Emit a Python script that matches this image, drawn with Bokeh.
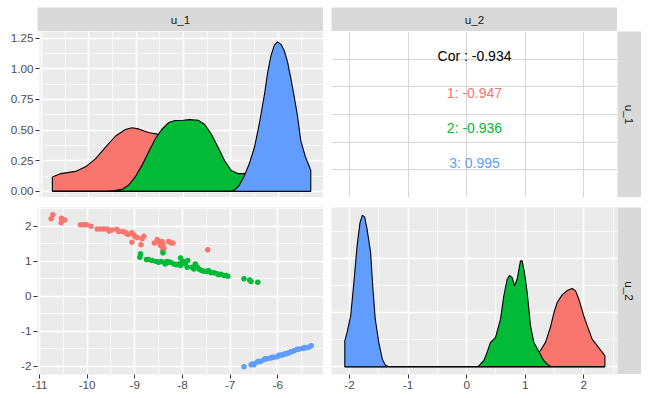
import math
from bokeh.plotting import figure
from bokeh.layouts import row, column
from bokeh.models import FixedTicker, Range1d, Spacer
from bokeh.embed import file_html
from bokeh.resources import INLINE
from bokeh.core.properties import value

# ---------------- data ----------------
groups = ["1", "2", "3"]
group_colors = ["#F8766D", "#00BA38", "#619CFF"]
var_names = ["u_1", "u_2"]

cor_all = -0.934
cor_groups = [-0.947, -0.936, 0.995]

# scatter u_1 (x) vs u_2 (y)
red_u1 = [-10.755, -10.72, -10.54, -10.545, -10.47, -10.14, -10.07, -10.01, -9.92, -9.79,
          -9.72, -9.65, -9.58, -9.54, -9.48, -9.38, -9.34, -9.26, -9.20, -9.16,
          -9.13, -9.06, -9.02, -8.99, -8.95, -9.06, -8.87, -8.85, -8.81, -8.59,
          -8.53, -8.48, -8.43, -8.41, -8.46, -8.41, -8.39, -8.41, -8.29, -8.24,
          -8.20, -7.47]
red_u2 = [2.21, 2.325, 2.23, 2.096, 2.18, 2.04, 2.04, 2.04, 2.00, 1.92,
          1.92, 1.92, 1.92, 1.86, 1.89, 1.91, 1.85, 1.85, 1.83, 1.78,
          1.77, 1.81, 1.75, 1.70, 1.68, 1.54, 1.47, 1.64, 1.71, 1.52,
          1.62, 1.54, 1.56, 1.50, 1.45, 1.40, 1.37, 1.31, 1.56, 1.52,
          1.52, 1.33]
green_u1 = [-8.895, -8.88, -8.755, -8.71, -8.64, -8.55, -8.50, -8.45, -8.39, -8.36,
            -8.32, -8.29, -8.25, -8.18, -8.13, -8.08, -8.04, -8.01, -8.04, -7.99,
            -7.94, -7.90, -7.89, -7.80, -7.76, -7.73, -7.69, -7.64, -7.59, -7.54,
            -7.48, -7.45, -7.40, -7.34, -7.27, -7.24, -7.19, -7.13, -7.08, -7.05,
            -6.71, -6.59, -6.56, -6.42, -8.41]
green_u2 = [1.115, 1.21, 1.05, 1.05, 1.02, 0.99, 0.97, 0.99, 0.97, 0.92,
            0.99, 0.97, 0.97, 0.92, 0.90, 0.92, 0.88, 0.95, 1.09, 0.99,
            0.92, 0.83, 1.02, 0.83, 0.78, 0.92, 0.83, 0.76, 0.73, 0.71,
            0.71, 0.73, 0.67, 0.67, 0.64, 0.61, 0.63, 0.59, 0.59, 0.57,
            0.50, 0.46, 0.42, 0.40, 1.24]
blue_u1 = [-6.71, -6.56, -6.52, -6.43, -6.36, -6.29, -6.22, -6.15, -6.08, -6.01,
           -5.94, -5.87, -5.80, -5.73, -5.66, -5.56, -5.49, -5.42, -5.35, -5.30,
           -6.50, -6.40, -6.26, -6.12, -5.98, -5.91, -5.84, -5.77, -5.70, -5.59,
           -5.44]
blue_u2 = [-2.02, -1.96, -1.93, -1.88, -1.87, -1.81, -1.79, -1.77, -1.75, -1.73,
           -1.69, -1.66, -1.64, -1.60, -1.56, -1.52, -1.50, -1.48, -1.46, -1.42,
           -1.96, -1.86, -1.79, -1.75, -1.69, -1.68, -1.65, -1.62, -1.58, -1.52,
           -1.47]

# density of u_1 per group (x, density)
red_u1_x = [-10.77, -10.59, -10.28, -10.07, -9.86, -9.65, -9.44, -9.23, -9.09, -8.95,
            -8.74, -8.53, -8.3, -8.0, -7.7, -7.4, -7.0, -6.6, -5.31]
red_u1_d = [0.118, 0.145, 0.163, 0.20, 0.265, 0.36, 0.45, 0.505, 0.52, 0.51,
            0.48, 0.465, 0.42, 0.30, 0.14, 0.06, 0.02, 0.0, 0.0]
green_u1_x = [-10.77, -9.6, -9.48, -9.30, -9.16, -9.02, -8.88, -8.74, -8.60, -8.46,
              -8.32, -8.18, -8.01, -7.87, -7.69, -7.55, -7.41, -7.27, -7.13, -6.99,
              -6.85, -6.71, -6.5, -6.3, -6.1, -5.8, -5.31]
green_u1_d = [0.0, 0.0, 0.005, 0.016, 0.05, 0.118, 0.21, 0.32, 0.425, 0.505,
              0.56, 0.578, 0.58, 0.586, 0.58, 0.546, 0.466, 0.36, 0.25, 0.17,
              0.145, 0.145, 0.11, 0.06, 0.02, 0.0, 0.0]
blue_u1_x = [-10.77, -7.1, -6.99, -6.92, -6.82, -6.71, -6.61, -6.50, -6.40, -6.29,
             -6.22, -6.15, -6.08, -6.01, -5.94, -5.87, -5.80, -5.73, -5.66, -5.59,
             -5.52, -5.42, -5.35, -5.31]
blue_u1_d = [0.0, 0.0, 0.003, 0.01, 0.05, 0.13, 0.225, 0.36, 0.546, 0.787,
             0.974, 1.108, 1.194, 1.22, 1.20, 1.148, 1.055, 0.92, 0.774, 0.613,
             0.412, 0.278, 0.211, 0.171]

# density of u_2 per group (x, density)
red_u2_x = [-2.08, 0.8, 0.9, 1.0, 1.1, 1.2, 1.26, 1.346, 1.43, 1.49,
            1.545, 1.63, 1.716, 1.80, 1.858, 1.915, 2.0, 2.057, 2.142, 2.227,
            2.313, 2.36]
red_u2_d = [0.0, 0.0, 0.01, 0.04, 0.12, 0.22, 0.30, 0.45, 0.73, 1.0,
            1.19, 1.33, 1.41, 1.45, 1.41, 1.25, 0.94, 0.76, 0.51, 0.39,
            0.27, 0.2]
green_u2_x = [-2.08, 0.15, 0.208, 0.236, 0.293, 0.35, 0.407, 0.492, 0.578, 0.634,
              0.691, 0.731, 0.777, 0.817, 0.862, 0.919, 0.947, 0.987, 1.033, 1.09,
              1.147, 1.232, 1.317, 1.403, 1.45, 2.36]
green_u2_d = [0.0, 0.0, 0.01, 0.05, 0.11, 0.27, 0.45, 0.54, 0.88, 1.31,
              1.62, 1.69, 1.65, 1.5, 1.62, 1.96, 1.96, 1.75, 1.38, 0.76,
              0.45, 0.28, 0.11, 0.02, 0.0, 0.0]
blue_u2_x = [-2.08, -2.04, -1.98, -1.93, -1.87, -1.82, -1.78, -1.74, -1.70, -1.64,
             -1.60, -1.56, -1.50, -1.44, -1.39, -1.33, 2.36]
blue_u2_d = [0.48, 0.64, 0.94, 1.5, 2.24, 2.67, 2.81, 2.77, 2.55, 2.12,
             1.44, 0.88, 0.45, 0.14, 0.03, 0.0, 0.0]

# tick values
u1_ticks = [-11, -10, -9, -8, -7, -6]
u1_minor = [-10.5, -9.5, -8.5, -7.5, -6.5, -5.5]
u2_ticks = [-2, -1, 0, 1, 2]
u2_minor = [-1.5, -0.5, 0.5, 1.5, 2.5]
d1_ticks = [0.0, 0.25, 0.5, 0.75, 1.0, 1.25]
d1_minor = [0.125, 0.375, 0.625, 0.875, 1.125]
d2_ticks = [0.0, 1.0, 2.0]
d2_minor = [0.5, 1.5, 2.5]

# ---------------- styling / layout ----------------
FONT = "Liberation Sans"
PANEL_BG = "#EBEBEB"
STRIP_BG = "#D9D9D9"
U1_RANGE = (-11.042, -5.041)
U2_RANGE_X = (-2.307, 2.575)
U2_RANGE_Y = (-2.24, 2.535)
D1_RANGE = (-0.05, 1.305)
D2_RANGE = (-0.145, 2.95)

MARGIN = 7
LEFT_W, PANEL_W, GAP_W, STRIP_W = 30, 286, 8, 24
STRIP_H, PANEL1_H, GAP_H, PANEL2_H, BOTTOM_H = 24, 166, 10, 167, 18


def make_panel(w, h, xr, yr, xt, xm, yt, ym, left=0, bottom=0, bg=PANEL_BG,
               grid_color="white", major_w=1.4, minor_w=0.7):
    p = figure(width=w, height=h, x_range=Range1d(*xr), y_range=Range1d(*yr),
               output_backend="svg", toolbar_location=None,
               x_axis_location="below" if bottom else None,
               y_axis_location="left" if left else None,
               min_border=0, min_border_left=left, min_border_bottom=bottom)
    p.background_fill_color = bg
    p.border_fill_color = "white"
    p.outline_line_color = None
    p.xgrid.ticker = FixedTicker(ticks=xt, minor_ticks=xm)
    p.ygrid.ticker = FixedTicker(ticks=yt, minor_ticks=ym)
    for g in (p.xgrid, p.ygrid):
        g.grid_line_color = grid_color
        g.grid_line_width = major_w
        g.minor_grid_line_color = grid_color if xm or ym else None
        g.minor_grid_line_width = minor_w
    return p


def style_axis(ax, ticks, labels):
    ax.ticker = FixedTicker(ticks=ticks, minor_ticks=[])
    ax.major_label_overrides = dict(zip(ticks, labels))
    ax.axis_line_color = None
    ax.major_tick_line_color = "#333333"
    ax.major_tick_line_width = 1
    ax.major_tick_in = 0
    ax.major_tick_out = 4
    ax.minor_tick_line_color = None
    ax.major_label_text_font = FONT
    ax.major_label_text_font_size = "11.7px"
    ax.major_label_text_color = "#4D4D4D"
    ax.major_label_standoff = 2


def strip(w, h, label, vertical=False):
    s = figure(width=w, height=h, x_range=Range1d(0, 1), y_range=Range1d(0, 1),
               output_backend="svg", toolbar_location=None,
               x_axis_location=None, y_axis_location=None, min_border=0)
    s.grid.visible = False
    s.outline_line_color = None
    s.background_fill_color = STRIP_BG
    s.border_fill_color = "white"
    s.text(x=[0.5], y=[0.5], text=[label], text_align="center", text_baseline="middle",
           angle=-math.pi / 2 if vertical else 0,
           text_font=value(FONT), text_font_size="11.7px", text_color="#1A1A1A")
    return s


def density(p, xs, ds, color):
    px = [xs[0]] + list(xs) + [xs[-1]]
    py = [0.0] + list(ds) + [0.0]
    p.patch(px, py, fill_color=color, line_color="black", line_width=1.1)


# top-left: density of u_1
tl = make_panel(LEFT_W + PANEL_W, PANEL1_H, U1_RANGE, D1_RANGE,
                u1_ticks, u1_minor, d1_ticks, d1_minor, left=LEFT_W)
style_axis(tl.yaxis[0], d1_ticks, ["%.2f" % t for t in d1_ticks])
for xs, ds, c in zip([red_u1_x, green_u1_x, blue_u1_x],
                     [red_u1_d, green_u1_d, blue_u1_d], group_colors):
    density(tl, xs, ds, c)

# top-right: correlations
tr = make_panel(PANEL_W, PANEL1_H, U2_RANGE_X, (0, 6),
                u2_ticks, [], [0, 1, 2, 3, 4, 5, 6], [], bg="white",
                grid_color="#D6D6D6", major_w=1.0)
xc = (U2_RANGE_X[0] + U2_RANGE_X[1]) / 2
tr.text(x=[xc], y=[5.1], text=["Cor : %.3f" % cor_all], text_align="center",
        text_baseline="middle", text_font=value(FONT), text_font_size="14px",
        text_color="black")
tr.text(x=[xc] * 3, y=[3.79, 2.53, 1.23],
        text=["%s: %.3f" % (g, c) for g, c in zip(groups, cor_groups)],
        text_color=group_colors, text_align="center", text_baseline="middle",
        text_font=value(FONT), text_font_size="14px")

# bottom-left: scatter
bl = make_panel(LEFT_W + PANEL_W, PANEL2_H + BOTTOM_H, U1_RANGE, U2_RANGE_Y,
                u1_ticks, u1_minor, u2_ticks, u2_minor + [-2.5], left=LEFT_W, bottom=BOTTOM_H)
style_axis(bl.yaxis[0], u2_ticks, [str(t) for t in u2_ticks])
style_axis(bl.xaxis[0], u1_ticks, [str(t) for t in u1_ticks])
for xs, ys, c in zip([red_u1, green_u1, blue_u1], [red_u2, green_u2, blue_u2], group_colors):
    bl.scatter(xs, ys, size=5.5, fill_color=c, line_color=None)

# bottom-right: density of u_2
br = make_panel(PANEL_W, PANEL2_H + BOTTOM_H, U2_RANGE_X, D2_RANGE,
                u2_ticks, u2_minor, d2_ticks, d2_minor, bottom=BOTTOM_H)
style_axis(br.xaxis[0], u2_ticks, [str(t) for t in u2_ticks])
for xs, ds, c in zip([red_u2_x, green_u2_x, blue_u2_x],
                     [red_u2_d, green_u2_d, blue_u2_d], group_colors):
    density(br, xs, ds, c)

grid_block = column(
    row(Spacer(width=LEFT_W, height=STRIP_H), strip(PANEL_W, STRIP_H, var_names[0]),
        Spacer(width=GAP_W, height=STRIP_H), strip(PANEL_W, STRIP_H, var_names[1]),
        Spacer(width=STRIP_W, height=STRIP_H)),
    row(tl, Spacer(width=GAP_W, height=PANEL1_H), tr,
        strip(STRIP_W, PANEL1_H, var_names[0], vertical=True)),
    Spacer(width=10, height=GAP_H),
    row(bl, Spacer(width=GAP_W, height=PANEL2_H + BOTTOM_H), br,
        column(strip(STRIP_W, PANEL2_H, var_names[1], vertical=True),
               Spacer(width=STRIP_W, height=BOTTOM_H))),
)

layout = column(Spacer(width=10, height=MARGIN),
                row(Spacer(width=MARGIN, height=10), grid_block))

open("out.html", "w").write(file_html(layout, INLINE))
